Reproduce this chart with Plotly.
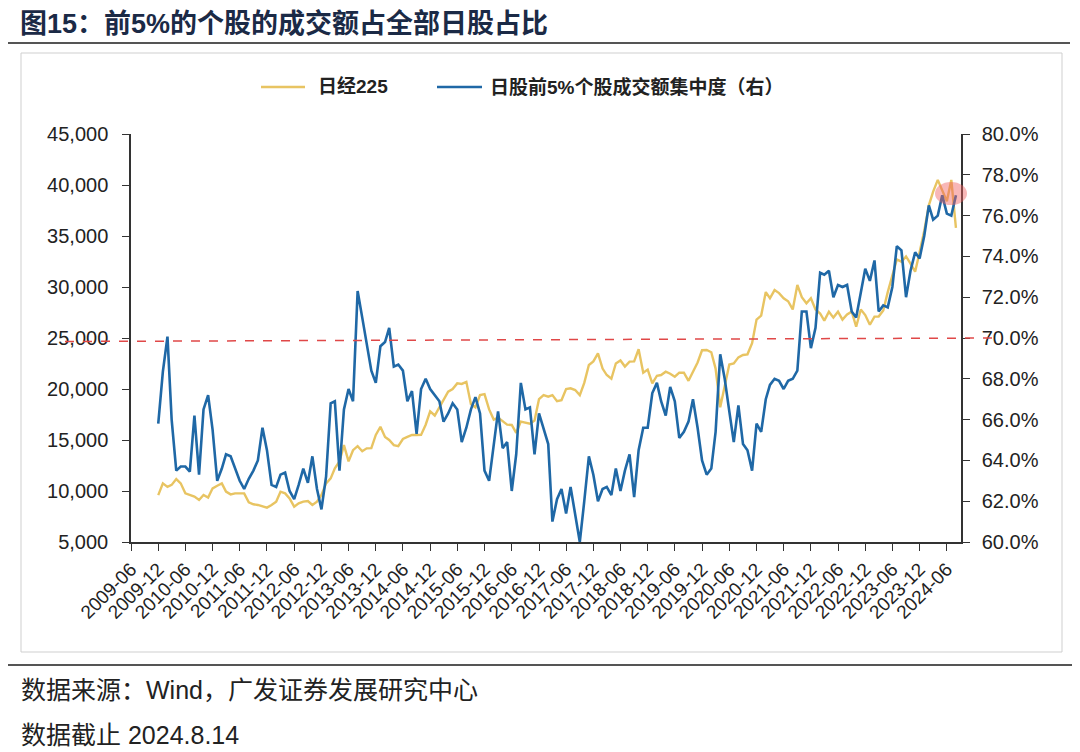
import pandas as pd
import plotly.graph_objects as go

# ---------------- data ----------------
start_month = "2009-12-01"   # first observation (monthly)

nikkei225 = [
    9600, 10750, 10400, 10600, 11175, 10750, 9770, 9610, 9450, 9120,
    9610, 9350, 10260, 10520, 10750, 9935, 9670, 9770, 9770, 9770,
    8890, 8700, 8630, 8470, 8370, 8630, 8960, 9935, 9770, 9280,
    8470, 8790, 8960, 9020, 8630, 8960, 9610, 10750, 11240, 12220,
    12900, 14500, 12900, 14000, 14400, 13900, 14180, 14200, 15500, 16300,
    15300, 15000, 14500, 14400, 15100, 15300, 15490, 15490, 15500, 16500,
    17800, 17400, 18200, 19000, 19740, 20000, 20550, 20500, 20700, 18500,
    18200, 19400, 19500, 18000, 17000, 17200, 16800, 16500, 16470, 15700,
    16800, 16700, 16600, 16900, 19000, 19400, 19250, 19400, 18800, 18900,
    20000, 20066, 19900, 19400, 20600, 22350, 22700, 23500, 22000, 21370,
    21000, 22500, 22800, 22200, 22680, 22700, 23900, 21600, 21900, 20550,
    21300, 21370, 21700, 21500, 21200, 21600, 21600, 20800, 21650, 22600,
    23800, 23820, 23600, 22000, 18200, 20200, 22400, 22500, 23100, 23330,
    23400, 24500, 26800, 27200, 29500, 28900, 29700, 29400, 28900, 28600,
    27800, 30200, 29000, 28400, 28900, 27800, 27400, 26700, 27580, 27000,
    27580, 26800, 27300, 27580, 26100, 27800, 27250, 26300, 27100, 27100,
    27700, 29500, 31000, 32700, 32480, 33000, 32300, 31500, 33400, 35500,
    38000, 39350, 40500, 39500, 38400, 40500, 35800,
]

top5_share_pct = [
    65.8, 68.35, 70.07, 66.0, 63.5, 63.7, 63.7, 63.45, 66.2, 63.3,
    66.5, 67.2, 65.5, 63.0, 63.6, 64.3, 64.2, 63.6, 63.0, 62.6,
    63.1, 63.5, 64.0, 65.6, 64.5, 62.8, 62.7, 63.3, 63.4, 62.5,
    62.1, 62.8, 63.6, 62.9, 64.2, 62.6, 61.6, 63.2, 66.8, 66.9,
    63.5, 66.5, 67.5, 66.9, 72.3, 71.0, 69.8, 68.4, 67.8, 69.6,
    69.8, 70.5, 68.6, 68.7, 68.4, 66.9, 67.4, 65.3, 67.5, 68.0,
    67.5, 67.2, 66.9, 65.9, 66.3, 66.8, 66.5, 64.9, 65.6, 66.5,
    67.1, 66.3, 63.5, 63.0, 64.7, 66.4, 64.6, 64.9, 62.5, 64.3,
    67.8, 66.5, 66.6, 64.3, 66.3, 65.5, 64.8, 61.0, 62.1, 62.6,
    61.4, 62.7, 61.3, 60.0, 62.0, 64.2, 63.3, 62.0, 62.6, 62.7,
    62.3, 63.6, 62.5, 63.5, 64.3, 62.2, 64.5, 65.6, 65.6, 67.3,
    67.8, 66.9, 66.2, 67.6, 66.9, 65.1, 65.4, 65.9, 67.0, 65.6,
    64.0, 63.3, 63.6, 65.4, 69.2, 68.0, 66.4, 64.9, 66.7, 64.8,
    64.5, 63.5, 65.8, 65.4, 67.0, 67.7, 68.0, 67.9, 67.5, 67.9,
    68.0, 68.4, 71.3, 71.3, 69.5, 70.5, 73.2, 73.1, 73.3, 72.0,
    72.6, 72.5, 72.6, 71.3, 71.0, 72.3, 73.4, 72.8, 73.8, 71.3,
    71.6, 71.5, 72.5, 74.5, 74.3, 72.0, 73.3, 74.2, 73.9, 75.0,
    76.5, 75.8, 76.0, 77.0, 76.1, 76.0, 77.0,
]

tick_labels = [
    "2009-06", "2009-12", "2010-06", "2010-12", "2011-06", "2011-12",
    "2012-06", "2012-12", "2013-06", "2013-12", "2014-06", "2014-12",
    "2015-06", "2015-12", "2016-06", "2016-12", "2017-06", "2017-12",
    "2018-06", "2018-12", "2019-06", "2019-12", "2020-06", "2020-12",
    "2021-06", "2021-12", "2022-06", "2022-12", "2023-06", "2023-12",
    "2024-06",
]

title_text = "图15：前5%的个股的成交额占全部日股占比"
legend_names = ["日经225", "日股前5%个股成交额集中度（右）"]
source_text = "数据来源：Wind，广发证券发展研究中心"
date_text = "数据截止 2024.8.14"

# ---------------- figure ----------------
dates = pd.date_range(start_month, periods=len(nikkei225), freq="MS")
tick_vals = [lbl + "-01" for lbl in tick_labels]

YELLOW = "#E8C462"
BLUE = "#1F68A6"
FONT = "Liberation Sans, Arial, Noto Sans CJK SC, sans-serif"

# page offset (default body margin of the html page)
OFF = 8
FIG_W, FIG_H = 1080 - OFF, 752 - OFF
# pixel geometry of the plot area, in page pixels
L, R, T, B = 131, 961, 134, 542
W, H = R - L, B - T


def px(x):
    return (x - L) / W


def py(y):
    return (B - y) / H


fig = go.Figure()
fig.add_trace(go.Scatter(
    x=dates, y=nikkei225, name=legend_names[0], mode="lines",
    line=dict(color=YELLOW, width=2.4), yaxis="y"))
fig.add_trace(go.Scatter(
    x=dates, y=top5_share_pct, name=legend_names[1], mode="lines",
    line=dict(color=BLUE, width=2.6), yaxis="y2"))

axis_common = dict(
    showgrid=False, zeroline=False, showline=True, linecolor="#333333",
    linewidth=1.5, ticks="outside", ticklen=7, tickcolor="#333333",
    tickwidth=1.2,
)
tick_font = dict(family=FONT, size=20, color="#222222")

fig.update_layout(
    width=FIG_W, height=FIG_H,
    margin=dict(l=L - OFF, r=FIG_W - (R - OFF), t=T - OFF, b=FIG_H - (B - OFF)),
    paper_bgcolor="white", plot_bgcolor="white",
    showlegend=False,
    xaxis=dict(
        type="date", range=["2009-06-01", "2024-09-04"],
        tickmode="array", tickvals=tick_vals, ticktext=tick_labels,
        tickangle=-45, tickfont=dict(family=FONT, size=19, color="#222222"),
        **axis_common,
    ),
    yaxis=dict(range=[5000, 45000], dtick=5000, tickformat=",",
               ticklabelstandoff=10, tickfont=tick_font, **axis_common),
    yaxis2=dict(range=[60, 80], dtick=2, tickformat=".1f", ticksuffix="%",
                overlaying="y", side="right", ticklabelstandoff=8,
                tickfont=tick_font, **axis_common),
)

shapes = [
    # outer chart box
    dict(type="rect", xref="paper", yref="paper",
         x0=px(21), x1=px(1062), y0=py(652), y1=py(53),
         line=dict(color="#CFCFCF", width=1), layer="below"),
    # rule under the title
    dict(type="line", xref="paper", yref="paper",
         x0=px(5), x1=px(1070), y0=py(43), y1=py(43),
         line=dict(color="#555555", width=2)),
    # rule above the notes
    dict(type="line", xref="paper", yref="paper",
         x0=px(5), x1=px(1075), y0=py(665), y1=py(665),
         line=dict(color="#555555", width=2)),
    # red dashed reference line (hand drawn, slightly tilted)
    dict(type="line", xref="paper", yref="paper",
         x0=px(65), x1=px(993), y0=py(341.5), y1=py(338),
         line=dict(color="#E04848", width=1.5, dash="dash")),
    # highlight ellipse
    dict(type="circle", xref="paper", yref="paper",
         x0=px(935), x1=px(967), y0=py(205), y1=py(182),
         fillcolor="rgba(240,95,95,0.45)", line=dict(width=0)),
    # legend samples
    dict(type="line", xref="paper", yref="paper",
         x0=px(261), x1=px(305), y0=py(87), y1=py(87),
         line=dict(color=YELLOW, width=2.5)),
    dict(type="line", xref="paper", yref="paper",
         x0=px(437), x1=px(482), y0=py(87), y1=py(87),
         line=dict(color=BLUE, width=2.5)),
]
fig.update_layout(shapes=shapes)

annotations = [
    dict(text="<b>" + title_text + "</b>", x=px(18), y=py(24),
         font=dict(family=FONT, size=27, color="#1B2A46")),
    dict(text="<b>" + legend_names[0] + "</b>", x=px(316), y=py(87),
         font=dict(family=FONT, size=19, color="#222222")),
    dict(text="<b>" + legend_names[1] + "</b>", x=px(488), y=py(87),
         font=dict(family=FONT, size=19, color="#222222")),
    dict(text=source_text, x=px(19), y=py(690),
         font=dict(family=FONT, size=25, color="#222222")),
    dict(text=date_text, x=px(19), y=py(735),
         font=dict(family=FONT, size=25, color="#222222")),
]
for a in annotations:
    a.update(xref="paper", yref="paper", xanchor="left", yanchor="middle",
             showarrow=False)
fig.update_layout(annotations=annotations)

fig.write_html("out.html")
